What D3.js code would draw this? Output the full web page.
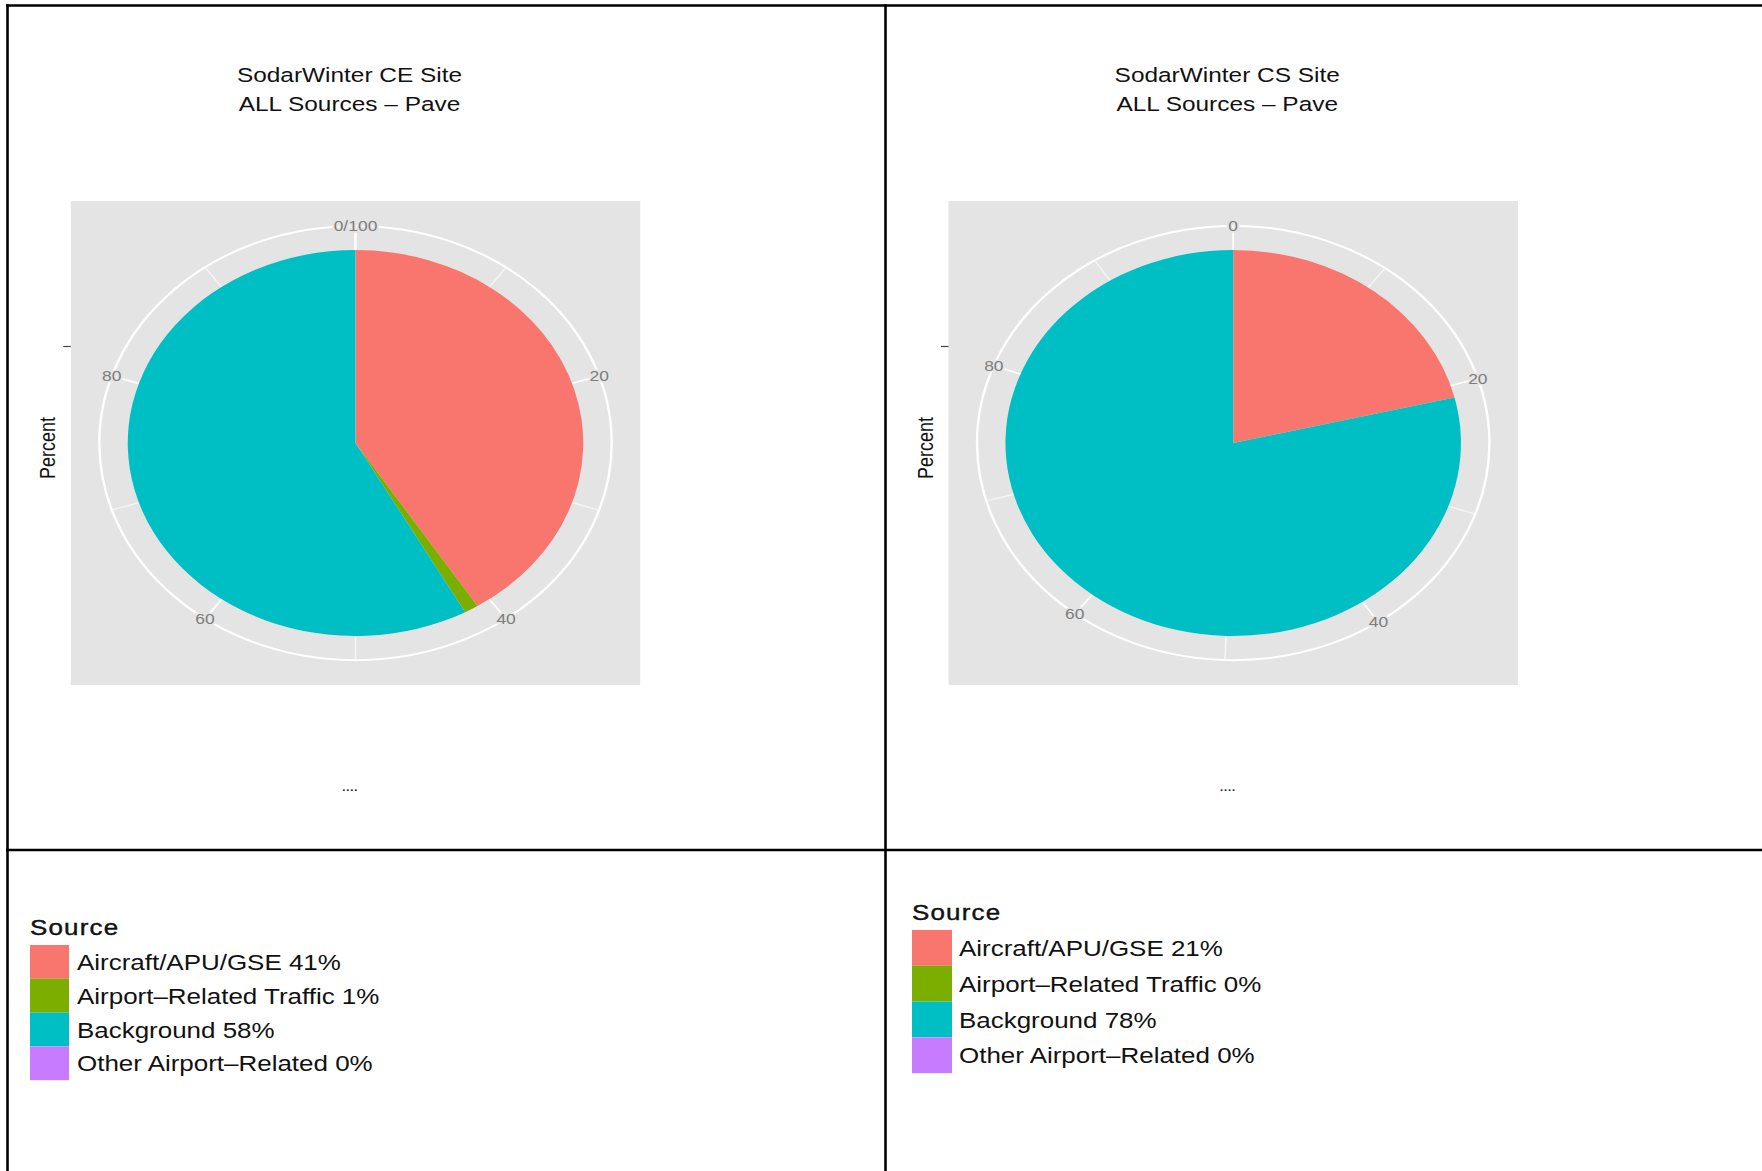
<!DOCTYPE html>
<html>
<head>
<meta charset="utf-8">
<script src="https://cdn.jsdelivr.net/npm/d3@7"></script>
<style>
  html, body { margin: 0; padding: 0; background: #ffffff; }
  svg { display: block; }
  text { font-family: "Liberation Sans", Arial, Helvetica, sans-serif; }
</style>
</head>
<body>
<svg id="chart" width="1762" height="1171"></svg>
<script>
// ---- data ----
const sources = ["Aircraft/APU/GSE", "Airport\u2013Related Traffic", "Background", "Other Airport\u2013Related"];
const sourceColors = ["#F8766D", "#7CAE00", "#00BFC4", "#C77CFF"];
const siteNames = ["SodarWinter CE Site", "SodarWinter CS Site"];
const subtitle = "ALL Sources \u2013 Pave";
const ceValues = [41, 1, 58, 0];
const csValues = [21, 0, 78, 0];
const thetaStep = 20;          // major theta breaks every 20 percent
const yAxisTitle = "Percent";
const xAxisTitle = "....";
const legendTitle = "Source";

// ---- layout ----
const W = 1762, H = 1171;
const SX = 1.18;               // horizontal stretch of the whole figure
const panelShift = 877.7;      // distance between the two site panels
const plotCX = 355.5, plotCY = 443;
const pieR = 193;              // radius of the pie (r scale max)
const bgHalfW = 284.7, bgHalfH = 242;
const legends = [
  { x: 30,  titleY: 935, rowTop: 945, rowH: 33.8, keyW: 39, labelX: 77 },
  { x: 912, titleY: 920, rowTop: 930, rowH: 35.8, keyW: 40, labelX: 959 }
];

const svg = d3.select("#chart");
svg.append("rect").attr("width", W).attr("height", H).attr("fill", "#ffffff");

const sites = [
  { name: siteNames[0], values: ceValues },
  { name: siteNames[1], values: csValues }
];

sites.forEach((site, i) => {
  const dx = i * panelShift;
  const cx = plotCX + dx, cy = plotCY;
  const total = d3.sum(site.values);

  // titles
  const titleG = svg.append("g");
  [site.name, subtitle].forEach((t, k) => {
    titleG.append("text")
      .attr("transform", `translate(${349.5 + dx},${82 + k * 28.8}) scale(${SX},1)`)
      .attr("text-anchor", "middle")
      .attr("font-size", 20.7)
      .attr("fill", "#111")
      .text(t);
  });

  // panel background
  svg.append("rect")
    .attr("x", cx - bgHalfW).attr("y", cy - bgHalfH)
    .attr("width", bgHalfW * 2).attr("height", bgHalfH * 2)
    .attr("fill", "#e4e4e4");

  // polar scales
  const r = d3.scaleLinear().domain([0.5, 1.5]).range([0, pieR]);
  const outerR = r(1.5) * 1.125;
  const theta = d3.scaleLinear().domain([0, total]).range([0, 2 * Math.PI]);
  const majors = d3.range(0, total + 1e-9, thetaStep);
  const minors = d3.range(thetaStep / 2, total, thetaStep);

  const g = svg.append("g").attr("transform", `translate(${cx},${cy}) scale(${SX},1)`);

  // grid: outer circle and spokes
  g.append("circle").attr("r", outerR)
    .attr("fill", "none").attr("stroke", "#ffffff").attr("stroke-width", 2);
  minors.forEach(v => {
    const a = theta(v);
    g.append("line").attr("x1", 0).attr("y1", 0)
      .attr("x2", outerR * Math.sin(a)).attr("y2", -outerR * Math.cos(a))
      .attr("stroke", "#f6f6f6").attr("stroke-width", 1.3);
  });
  majors.forEach(v => {
    const a = theta(v);
    g.append("line").attr("x1", 0).attr("y1", 0)
      .attr("x2", outerR * Math.sin(a)).attr("y2", -outerR * Math.cos(a))
      .attr("stroke", "#ffffff").attr("stroke-width", 1.6);
  });

  // pie slices
  const pie = d3.pie().sort(null).value(d => d)
    .startAngle(0).endAngle(theta(total));
  const arc = d3.arc().innerRadius(r(0.5)).outerRadius(r(1.5));
  g.selectAll("path.slice")
    .data(pie(site.values))
    .join("path")
    .attr("class", "slice")
    .attr("d", arc)
    .attr("fill", (d, k) => sourceColors[k]);

  // theta labels (the closing break shares the spot of 0)
  const labelled = majors.filter(v => !(v === total && v !== 0));
  labelled.forEach(v => {
    const a = theta(v);
    const txt = (v === 0 && majors[majors.length - 1] === total) ? `0/${total}` : `${v}`;
    g.append("text")
      .attr("transform", `translate(${outerR * Math.sin(a)},${-outerR * Math.cos(a)})`)
      .attr("text-anchor", "middle")
      .attr("dy", "0.36em")
      .attr("font-size", 14.8)
      .attr("fill", "#7d7d7d")
      .attr("stroke", "#e4e4e4").attr("stroke-width", 3)
      .attr("paint-order", "stroke")
      .text(txt);
  });

  // radial axis tick (single empty level)
  const tickY = cy - r(1);
  svg.append("line")
    .attr("x1", cx - bgHalfW - 7.5).attr("x2", cx - bgHalfW)
    .attr("y1", tickY).attr("y2", tickY)
    .attr("stroke", "#444").attr("stroke-width", 1.2);

  // axis titles
  svg.append("text")
    .attr("transform", `translate(${55 + dx},${448}) scale(${SX},1) rotate(-90)`)
    .attr("text-anchor", "middle")
    .attr("font-size", 18)
    .attr("fill", "#111")
    .text(yAxisTitle);
  svg.append("text")
    .attr("transform", `translate(${350 + dx},${791}) scale(${SX},1)`)
    .attr("text-anchor", "middle")
    .attr("font-size", 11)
    .attr("font-weight", "bold")
    .attr("letter-spacing", 0.3)
    .attr("fill", "#333")
    .text(xAxisTitle);

  // legend
  const L = legends[i];
  svg.append("text")
    .attr("transform", `translate(${L.x},${L.titleY}) scale(${SX},1)`)
    .attr("font-size", 22)
    .attr("letter-spacing", 1)
    .attr("stroke", "#111").attr("stroke-width", 0.4)
    .attr("fill", "#111")
    .text(legendTitle);
  const rows = svg.append("g");
  sources.forEach((s, k) => {
    const y0 = L.rowTop + k * L.rowH;
    rows.append("rect")
      .attr("x", L.x).attr("y", y0)
      .attr("width", L.keyW).attr("height", L.rowH)
      .attr("fill", sourceColors[k]);
    rows.append("text")
      .attr("transform", `translate(${L.labelX},${y0 + L.rowH / 2 + 8}) scale(${SX},1)`)
      .attr("font-size", 22)
      .attr("fill", "#111")
      .text(`${s} ${site.values[k]}%`);
  });
});

// figure frame and cell dividers
const frame = svg.append("g").attr("stroke", "#000").attr("stroke-width", 2.6);
frame.append("line").attr("x1", 6).attr("x2", W).attr("y1", 5.5).attr("y2", 5.5);
frame.append("line").attr("x1", 7.5).attr("x2", 7.5).attr("y1", 4.2).attr("y2", H);
frame.append("line").attr("x1", 885.5).attr("x2", 885.5).attr("y1", 4.2).attr("y2", H);
frame.append("line").attr("x1", 6).attr("x2", W).attr("y1", 850).attr("y2", 850);
</script>
</body>
</html>
